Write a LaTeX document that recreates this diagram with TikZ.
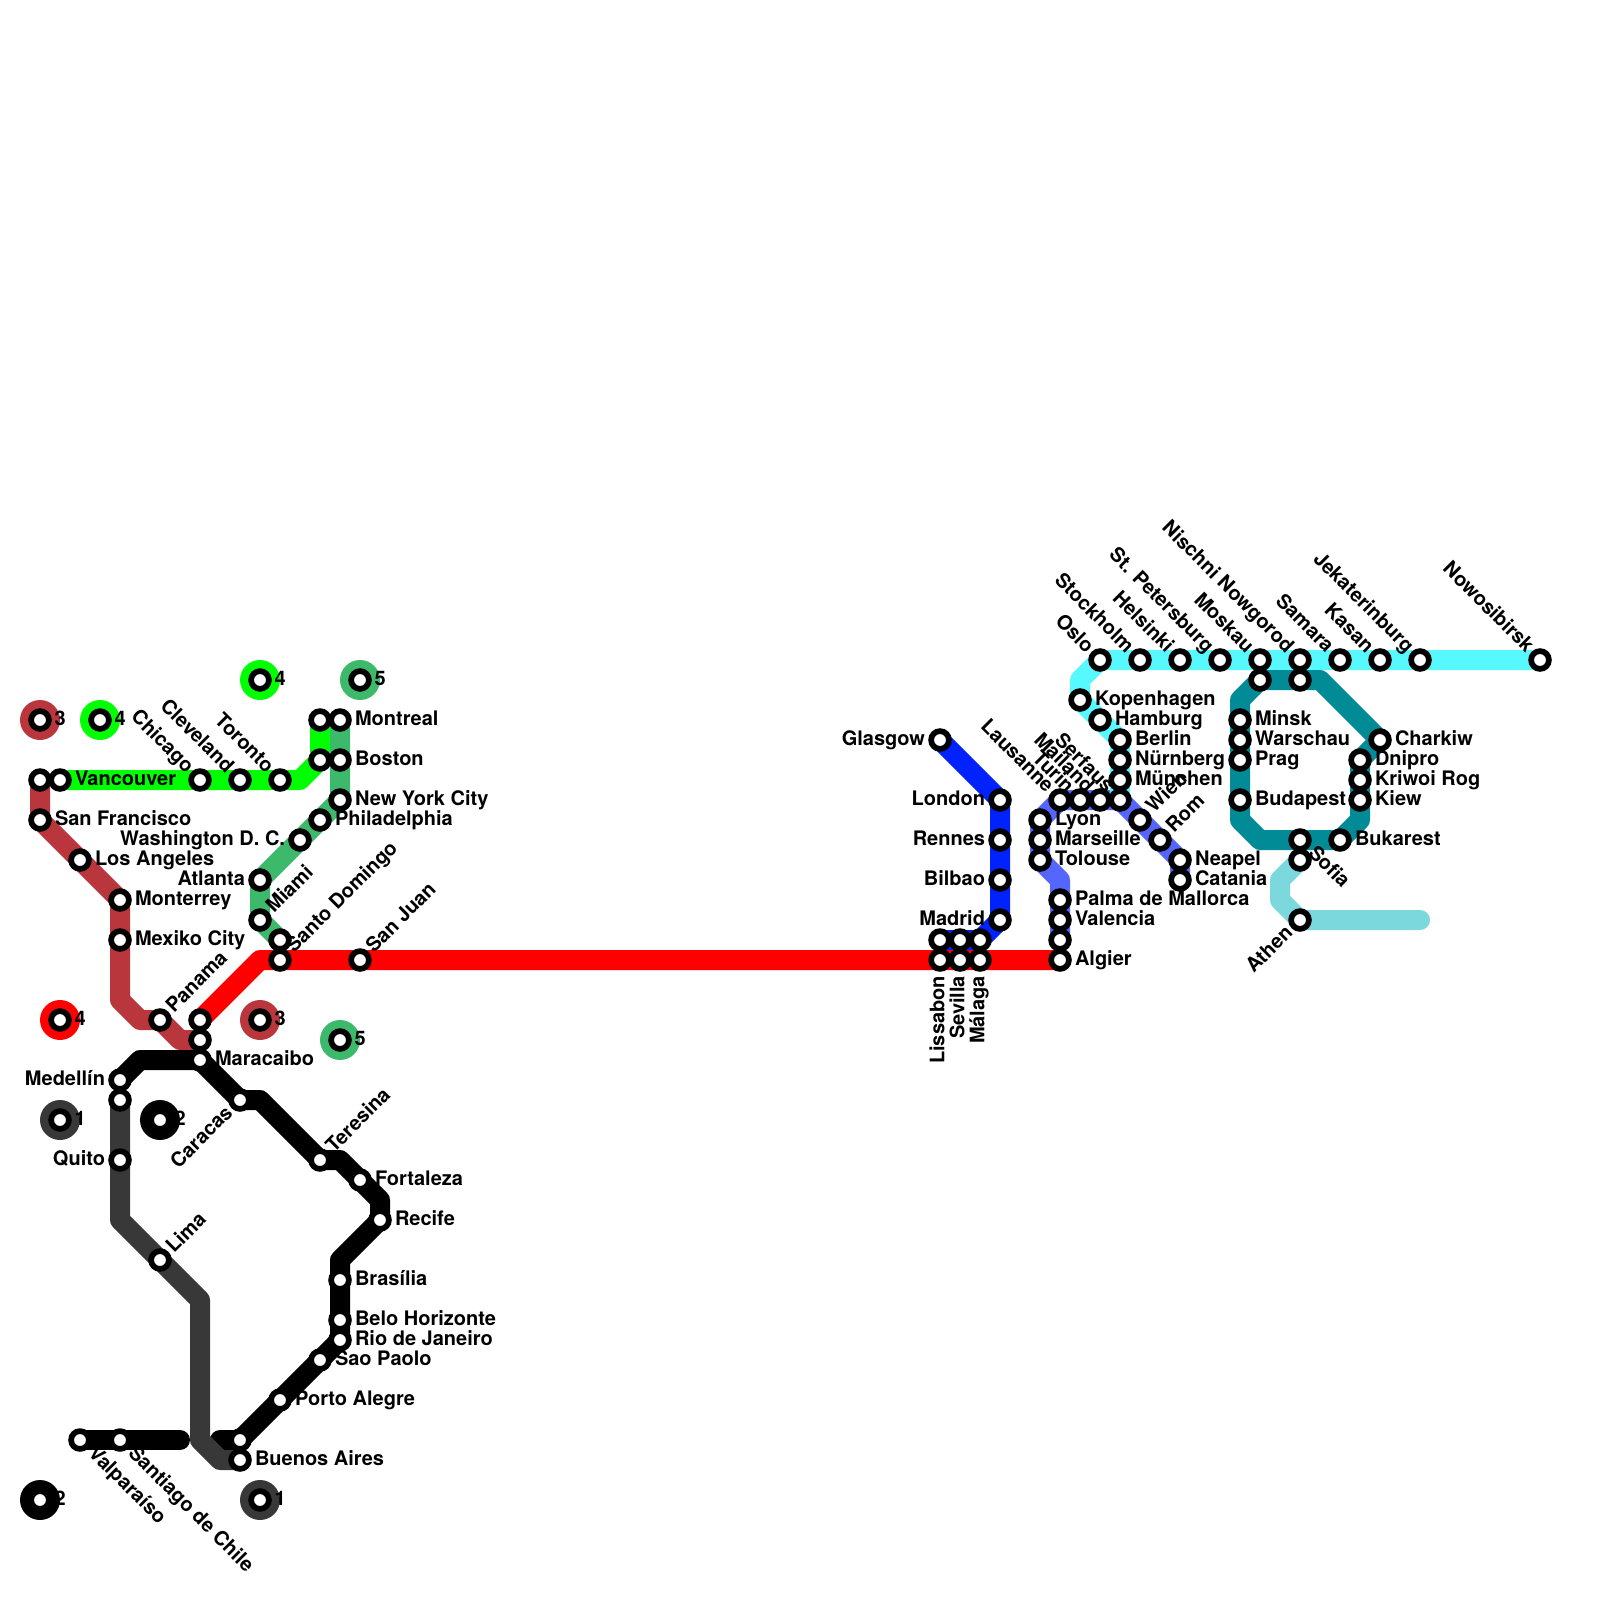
\documentclass[tikz,border=0pt]{standalone}
\usepackage{fontspec}
\setmainfont{TeX Gyre Heros}
\usetikzlibrary{backgrounds}
\definecolor{cBrown}{HTML}{B9373C}
\definecolor{cGreen}{HTML}{00FF00}
\definecolor{cSea}{HTML}{3CB96A}
\definecolor{cRed}{HTML}{FF0000}
\definecolor{cGray}{HTML}{383838}
\definecolor{cBlue}{HTML}{0022FF}
\definecolor{cPeri}{HTML}{5566FF}
\definecolor{cCyan}{HTML}{55F9FF}
\definecolor{cTeal}{HTML}{008B96}
\definecolor{cLight}{HTML}{7BD9DE}
\tikzset{
  stationdot/.style={circle,draw=black,fill=white,line width=2.85pt,minimum size=8.9pt,inner sep=0pt},
  disc/.style={circle,fill=#1,minimum size=20pt,inner sep=0pt},
  lbl/.style={inner sep=0pt,outer sep=0pt,text=black,font=\bfseries\fontsize{10}{11}\selectfont},
  metro/.style={line width=10pt,line join=round,line cap=round,draw=#1},
}
\newcommand{\stn}[3]{\node[stationdot] (#1) at (#2,#3) {};}
\newcommand{\legd}[5]{\node[disc=#4] (#1d) at (#2,#3) {};\node[stationdot] (#1) at (#2,#3) {};\node[lbl,anchor=mid west] (#1t) at ([xshift=7.25pt]#1.center) {#5};}
\newcommand{\lR}[2]{\node[lbl,anchor=mid west] (#1t) at ([xshift=7.5pt]#1.center) {#2};}
\newcommand{\lL}[2]{\node[lbl,anchor=mid east] (#1t) at ([xshift=-7.5pt]#1.center) {#2};}
\newcommand{\lUR}[2]{\node[lbl,anchor=mid west,rotate=45] (#1t) at ([xshift=5.25pt,yshift=5pt]#1.center) {#2};}
\newcommand{\lUL}[2]{\node[lbl,anchor=mid east,rotate=-45] (#1t) at ([xshift=-5.25pt,yshift=5pt]#1.center) {#2};}
\newcommand{\lDR}[2]{\node[lbl,anchor=mid west,rotate=-45] (#1t) at ([xshift=5.5pt,yshift=-5.25pt]#1.center) {#2};}
\newcommand{\lDL}[2]{\node[lbl,anchor=mid east,rotate=45] (#1t) at ([xshift=-5pt,yshift=-5.25pt]#1.center) {#2};}
\newcommand{\lD}[2]{\node[lbl,anchor=mid east,rotate=90] (#1t) at ([xshift=-0.5pt,yshift=-8pt]#1.center) {#2};}
\begin{document}
\begin{tikzpicture}[x=0.5pt,y=-0.5pt]
\useasboundingbox (0,0) rectangle (1600,1600);
% legend
\legd{lgA}{40}{720}{cBrown}{3}
\legd{lgB}{100}{720}{cGreen}{4}
\legd{lgC}{260}{680}{cGreen}{4}
\legd{lgD}{360}{680}{cSea}{5}
\legd{lgE}{60}{1020}{cRed}{4}
\legd{lgF}{260}{1020}{cBrown}{3}
\legd{lgG}{340}{1040}{cSea}{5}
\legd{lgH}{60}{1120}{cGray}{1}
\legd{lgI}{160}{1120}{black}{2}
\legd{lgJ}{40}{1500}{black}{2}
\legd{lgK}{260}{1500}{cGray}{1}
% bends
\coordinate (bA) at (120,1000);\coordinate (bB) at (140,1020);\coordinate (bC) at (180,1040);
\coordinate (gA) at (300,780);\coordinate (gB) at (320,760);
\coordinate (rA) at (260,960);
\coordinate (kA) at (140,1060);\coordinate (kB) at (260,1100);\coordinate (kC) at (340,1160);\coordinate (kD) at (380,1200);\coordinate (kE) at (340,1260);\coordinate (kF) at (180,1440);\coordinate (kG) at (220,1440);
\coordinate (yA) at (120,1220);\coordinate (yB) at (200,1300);\coordinate (yC) at (200,1440);\coordinate (yD) at (220,1460);
\coordinate (uA) at (1000,800);
\coordinate (pA) at (1060,880);
\coordinate (cA) at (1080,680);
\coordinate (tA) at (1320,680);\coordinate (tB) at (1360,820);\coordinate (tC) at (1260,840);\coordinate (tD) at (1240,820);\coordinate (tE) at (1240,700);
\coordinate (lA) at (1280,880);\coordinate (lB) at (1280,900);\coordinate (lC) at (1420,920);
% America stations
\stn{sfo}{40}{820}\stn{tl}{40}{780}\stn{van}{60}{780}\stn{chi}{200}{780}\stn{cle}{240}{780}\stn{tor}{280}{780}
\stn{ga}{320}{720}\stn{gb}{320}{760}\stn{mon}{340}{720}\stn{bos}{340}{760}\stn{nyc}{340}{800}\stn{phi}{320}{820}\stn{was}{300}{840}
\stn{atl}{260}{880}\stn{mia}{260}{920}\stn{sdo}{280}{940}\stn{sdr}{280}{960}\stn{sju}{360}{960}
\stn{lax}{80}{860}\stn{mty}{120}{900}\stn{mex}{120}{940}\stn{pan}{160}{1020}\stn{ra}{200}{1020}\stn{rb}{200}{1040}\stn{mar}{200}{1060}
\stn{med}{120}{1080}\stn{mdb}{120}{1100}\stn{qui}{120}{1160}\stn{lim}{160}{1260}\stn{car}{240}{1100}\stn{ter}{320}{1160}\stn{for}{360}{1180}\stn{rec}{380}{1220}
\stn{bra}{340}{1280}\stn{bel}{340}{1320}\stn{rio}{340}{1340}\stn{sao}{320}{1360}\stn{por}{280}{1400}\stn{bub}{240}{1440}\stn{bue}{240}{1460}\stn{val}{80}{1440}\stn{san}{120}{1440}
% Europe stations
\stn{gla}{940}{740}\stn{lon}{1000}{800}\stn{ren}{1000}{840}\stn{bil}{1000}{880}\stn{mad}{1000}{920}
\stn{ua}{940}{940}\stn{ub}{960}{940}\stn{uc}{980}{940}\stn{lis}{940}{960}\stn{sev}{960}{960}\stn{mal}{980}{960}\stn{alg}{1060}{960}\stn{pe}{1060}{940}
\stn{val2}{1060}{920}\stn{pal}{1060}{900}\stn{tol}{1040}{860}\stn{mrs}{1040}{840}\stn{lyo}{1040}{820}
\stn{lau}{1060}{800}\stn{tur}{1080}{800}\stn{mai}{1100}{800}\stn{ser}{1120}{800}\stn{wie}{1140}{820}\stn{rom}{1160}{840}\stn{nea}{1180}{860}\stn{cat}{1180}{880}
\stn{osl}{1100}{660}\stn{sto}{1140}{660}\stn{hel}{1180}{660}\stn{stp}{1220}{660}\stn{mos}{1260}{660}\stn{nis}{1300}{660}\stn{sam}{1340}{660}\stn{kas}{1380}{660}\stn{jek}{1420}{660}\stn{now}{1540}{660}
\stn{kop}{1080}{700}\stn{ham}{1100}{720}\stn{ber}{1120}{740}\stn{nue}{1120}{760}\stn{mue}{1120}{780}
\stn{ta}{1260}{680}\stn{tb}{1300}{680}\stn{min}{1240}{720}\stn{war}{1240}{740}\stn{pra}{1240}{760}\stn{bud}{1240}{800}
\stn{cha}{1380}{740}\stn{dni}{1360}{760}\stn{kri}{1360}{780}\stn{kie}{1360}{800}\stn{buk}{1340}{840}\stn{tc}{1300}{840}\stn{sof}{1300}{860}\stn{ath}{1300}{920}
% lines
\begin{scope}[on background layer]
\fill[white] (0,0) rectangle (1600,1600);
\draw[metro=cBrown] (tl.center) -- (sfo.center) -- (lax.center) -- (mty.center) -- (mex.center) -- (bA) -- (bB) -- (pan.center) -- (bC) -- (rb.center);
\draw[metro=cGreen] (van.center) -- (chi.center) -- (gA) -- (gB) -- (ga.center);
\draw[metro=cSea] (mon.center) -- (nyc.center) -- (atl.center) -- (mia.center) -- (sdo.center);
\draw[metro=cRed] (ra.center) -- (rA) -- (alg.center);
\draw[metro=black] (med.center) -- (kA) -- (mar.center) -- (car.center) -- (kB) -- (ter.center) -- (kC) -- (kD) -- (rec.center) -- (kE) -- (rio.center) -- (bub.center) -- (kG);
\draw[metro=black] (val.center) -- (kF);
\draw[metro=cGray] (mdb.center) -- (yA) -- (yB) -- (yC) -- (yD) -- (bue.center);
\draw[metro=cBlue] (gla.center) -- (lon.center) -- (mad.center) -- (uc.center) -- (ua.center);
\draw[metro=cPeri] (cat.center) -- (nea.center) -- (ser.center) -- (lau.center) -- (lyo.center) -- (tol.center) -- (pA) -- (pe.center);
\draw[metro=cCyan] (now.center) -- (osl.center) -- (cA) -- (kop.center) -- (ber.center) -- (ser.center);
\draw[metro=cTeal] (ta.center) -- (tA) -- (cha.center) -- (dni.center) -- (tB) -- (buk.center) -- (tC) -- (tD) -- (tE) -- cycle;
\draw[metro=cLight] (sof.center) -- (lA) -- (lB) -- (ath.center) -- (lC);
\end{scope}
% labels
\lR{van}{Vancouver}\lR{sfo}{San Francisco}\lR{lax}{Los Angeles}\lR{mty}{Monterrey}\lR{mex}{Mexiko City}
\lUL{chi}{Chicago}\lUL{cle}{Cleveland}\lUL{tor}{Toronto}
\lR{mon}{Montreal}\lR{bos}{Boston}\lR{nyc}{New York City}\lR{phi}{Philadelphia}\lL{was}{Washington D. C.}\lL{atl}{Atlanta}
\lUR{mia}{Miami}\lUR{sdr}{Santo Domingo}\lUR{sju}{San Juan}\lUR{pan}{Panama}
\lR{mar}{Maracaibo}\lL{med}{Medellín}\lL{qui}{Quito}\lUR{lim}{Lima}\lDL{car}{Caracas}\lUR{ter}{Teresina}
\lR{for}{Fortaleza}\lR{rec}{Recife}\lR{bra}{Brasília}\lR{bel}{Belo Horizonte}\lR{rio}{Rio de Janeiro}\lR{sao}{Sao Paolo}\lR{por}{Porto Alegre}\lR{bue}{Buenos Aires}
\lDR{val}{Valparaíso}\lDR{san}{Santiago de Chile}
\lL{gla}{Glasgow}\lL{lon}{London}\lL{ren}{Rennes}\lL{bil}{Bilbao}\lL{mad}{Madrid}
\lD{lis}{Lissabon}\lD{sev}{Sevilla}\lD{mal}{Málaga}
\lR{alg}{Algier}\lR{val2}{Valencia}\lR{pal}{Palma de Mallorca}\lR{tol}{Tolouse}\lR{mrs}{Marseille}\lR{lyo}{Lyon}
\lUL{lau}{Lausanne}\lUL{tur}{Turin}\lUL{mai}{Mailand}\lUL{ser}{Serfaus}\lUR{wie}{Wien}\lUR{rom}{Rom}\lR{nea}{Neapel}\lR{cat}{Catania}
\lUL{osl}{Oslo}\lUL{sto}{Stockholm}\lUL{hel}{Helsinki}\lUL{stp}{St. Petersburg}\lUL{mos}{Moskau}\lUL{nis}{Nischni Nowgorod}\lUL{sam}{Samara}\lUL{kas}{Kasan}\lUL{jek}{Jekaterinburg}\lUL{now}{Nowosibirsk}
\lR{kop}{Kopenhagen}\lR{ham}{Hamburg}\lR{ber}{Berlin}\lR{nue}{Nürnberg}\lR{mue}{München}
\lR{min}{Minsk}\lR{war}{Warschau}\lR{pra}{Prag}\lR{bud}{Budapest}\lR{cha}{Charkiw}\lR{dni}{Dnipro}\lR{kri}{Kriwoi Rog}\lR{kie}{Kiew}\lR{buk}{Bukarest}
\lDR{tc}{Sofia}\lDL{ath}{Athen}
\end{tikzpicture}
\end{document}
